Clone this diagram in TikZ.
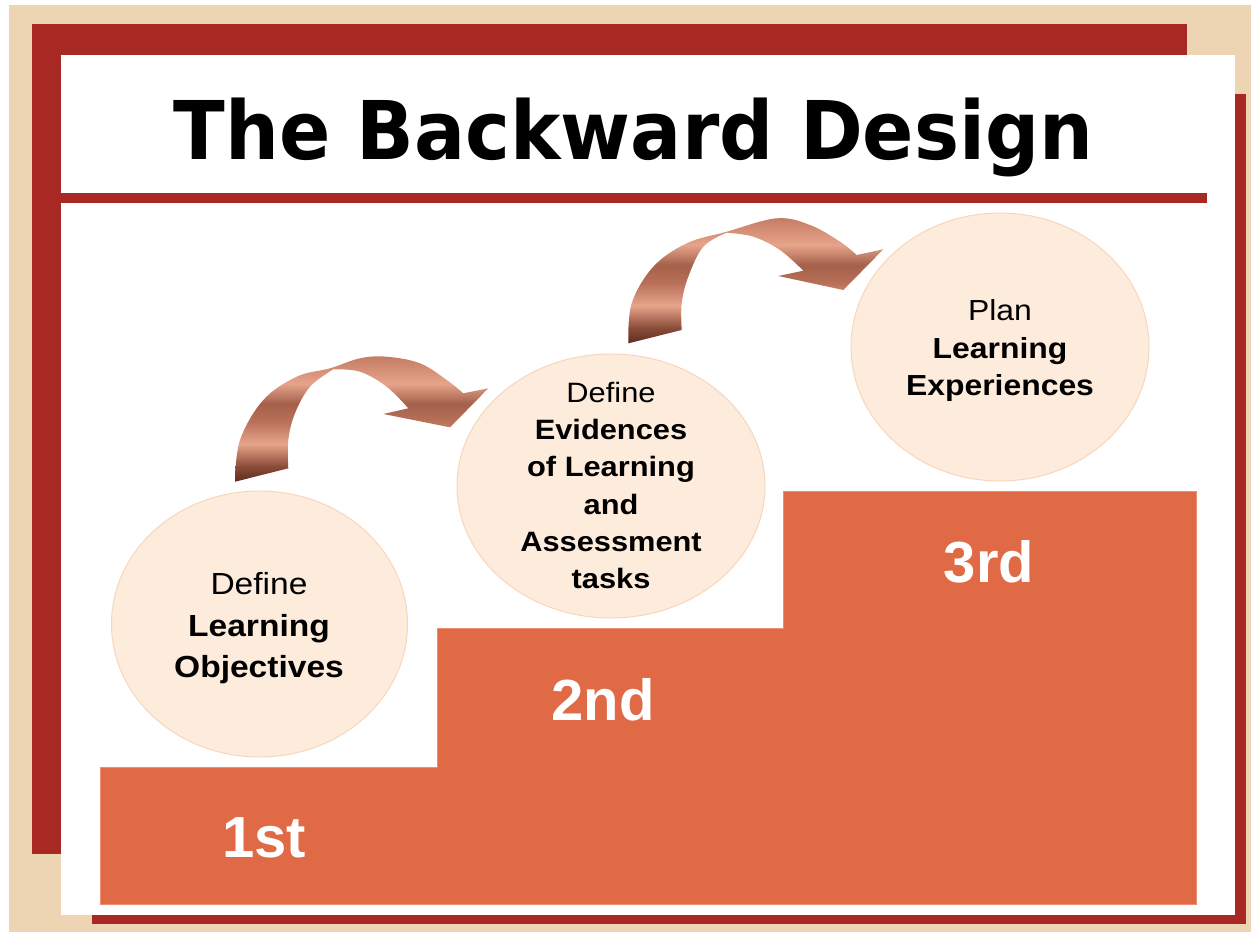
\documentclass[tikz,border=0pt]{standalone}
\usepackage{fontspec}
\setmainfont{Liberation Sans}
\newfontfamily\circfont[FakeStretch=1.1]{Liberation Sans}
\newfontfamily\titlefont[FakeStretch=0.935]{DejaVu Sans}
\usetikzlibrary{shapes.geometric}
\definecolor{beige}{HTML}{EDD4B2}
\definecolor{darkred}{HTML}{A82824}
\definecolor{stepor}{HTML}{E06A46}
\definecolor{stepline}{HTML}{EE8E70}
\definecolor{circfill}{HTML}{FDEBDC}
\definecolor{circline}{HTML}{F8D6BC}
\definecolor{ribdark}{HTML}{5E2C1E}
\definecolor{ribdark2}{HTML}{8A4C39}
\definecolor{ribmid}{HTML}{B87058}
\definecolor{ribmid2}{HTML}{A5604A}
\definecolor{riblight}{HTML}{E6A48A}
\definecolor{ribtop}{HTML}{C47B62}
\pgfdeclareverticalshading{ribbon}{100bp}{color(0bp)=(ribdark); color(25bp)=(ribdark); color(31bp)=(ribdark2); color(40bp)=(riblight); color(49bp)=(ribmid); color(56bp)=(ribmid2); color(64bp)=(riblight); color(75bp)=(ribtop); color(100bp)=(ribtop)}
\tikzset{
  bubble/.style={ellipse, draw=circline, line width=1pt, fill=circfill, inner sep=0pt},
  bubbletext/.style={align=center, inner sep=0pt, text=black},
  steplabel/.style={anchor=base, inner sep=0pt, text=white, font=\bfseries\fontsize{58}{58}\selectfont},
  ribbonarrow/.style={shading=ribbon}
}
\begin{document}
\begin{tikzpicture}[x=1pt,y=-1pt]
\useasboundingbox (0,0) rectangle (1255,932);
% frame
\fill[beige] (9,5) rectangle (1251,932);
\fill[darkred] (32,24) rectangle (1187,854);
\fill[darkred] (92,94) rectangle (1246,924);
\fill[white] (61,55) rectangle (1235,915);
\fill[darkred] (61,193) rectangle (1207,203);
% title
\node[anchor=base, inner sep=0pt] (title) at (633.5,159) {\titlefont\bfseries\fontsize{81}{81}\selectfont The Backward Design};
% steps
\filldraw[fill=stepor, draw=stepline, line width=0.8pt] (100,904) -- (100,767) -- (437,767) -- (437,628) -- (783,628) -- (783,491) -- (1196,491) -- (1196,904) -- cycle;
\node[steplabel] (s1) at (264,857) {1st};
\node[steplabel] (s2) at (603,720) {2nd};
\node[steplabel] (s3) at (989,582) {3rd};
% bubbles
\node[bubble, minimum width=296pt, minimum height=266pt] (c1) at (259.5,624) {};
\node[bubble, minimum width=308pt, minimum height=264pt] (c2) at (611,486) {};
\node[bubble, minimum width=298pt, minimum height=268pt] (c3) at (1000,347) {};
\node[bubbletext, font=\circfont\fontsize{30.5}{41.5}\selectfont] (t1) at (259,628.5) {Define\\\textbf{Learning}\\\textbf{Objectives}};
\node[bubbletext, font=\circfont\fontsize{28}{37.2}\selectfont] (t2) at (611,485.5) {Define\\\textbf{Evidences}\\\textbf{of Learning}\\\textbf{and}\\\textbf{Assessment}\\\textbf{tasks}};
\node[bubbletext, font=\circfont\fontsize{29}{37.5}\selectfont] (t3) at (1000,350.5) {Plan\\\textbf{Learning}\\\textbf{Experiences}};
% ribbon arrows
\shade[ribbonarrow] (235,481.7) -- plot[smooth, tension=0.6] coordinates {(235,481.7) (240,440) (263.3,400) (296.7,376.7) (330,368.3) (360,358.3) (386.7,356.7) (420,363.3) (446.7,380) (463.3,393.3)} -- (488.3,388.3) -- (450,427.3) -- (383.3,414) -- (408.3,408.3) -- plot[smooth, tension=0.6] coordinates {(408.3,408.3) (386.7,386.7) (360,371.7) (333.3,369.3)} -- plot[smooth, tension=0.6] coordinates {(333.3,369.3) (310,386.7) (295,413.3) (288.3,440) (288.3,468.3)} -- cycle;
\shade[ribbonarrow] (628.3,343.3) -- plot[smooth, tension=0.6] coordinates {(628.3,343.3) (631.7,303.3) (653.3,266.7) (686.7,243.3) (726.7,231.7) (776.7,218.3) (810,225) (840,241.7) (856.7,255)} -- (883.3,249.3) -- (843.3,290) -- (778.3,276) -- (803.3,270.7) -- plot[smooth, tension=0.6] coordinates {(803.3,270.7) (780,250) (753.3,236.7) (726.7,232.7)} -- plot[smooth, tension=0.6] coordinates {(726.7,232.7) (703.3,246.7) (688.3,276.7) (681.7,303.3) (681.7,330)} -- cycle;
\end{tikzpicture}
\end{document}
